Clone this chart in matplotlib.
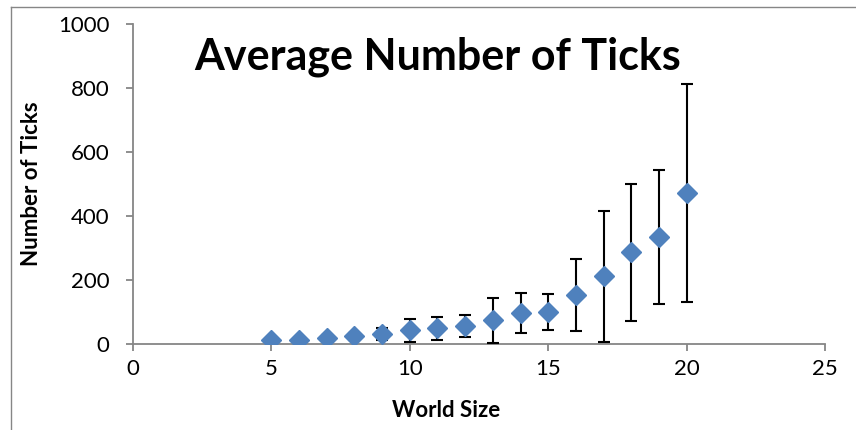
import matplotlib.pyplot as plt
from matplotlib.lines import Line2D

plt.rcParams['font.family'] = ['Lato', 'DejaVu Sans']

# World size vs. average ticks
world_size = [5, 6, 7, 8, 9, 10, 11, 12, 13, 14, 15, 16, 17, 18, 19, 20]
avg_ticks = [10, 12, 18, 22, 30, 41, 48, 54, 73, 95, 98, 151, 210, 285, 333, 471]
std_ticks = [5, 6, 8, 10, 18, 35, 36, 34, 70, 63, 57, 113, 204, 214, 209, 341]

fig = plt.figure(figsize=(8.56, 4.30), dpi=100)
ax = fig.add_axes([133 / 856, 86.5 / 430, 692 / 856, 319.5 / 430])

ax.errorbar(world_size, avg_ticks, yerr=std_ticks, fmt='D', color='#4F81BD',
            markersize=10, ecolor='black', elinewidth=1.5, capsize=4.3,
            capthick=1.5, zorder=3)

ax.set_xlim(0, 25)
ax.set_ylim(0, 1000)
ax.set_xticks([0, 5, 10, 15, 20, 25])
ax.set_yticks([0, 200, 400, 600, 800, 1000])

for side in ['top', 'right']:
    ax.spines[side].set_visible(False)
for side in ['left', 'bottom']:
    ax.spines[side].set_color('#868686')
    ax.spines[side].set_linewidth(1.3)
ax.tick_params(direction='out', length=5, width=1.3, color='#868686',
               labelsize=16)
ax.tick_params(axis='y', pad=12)
ax.tick_params(axis='x', pad=6)

ax.set_xlabel('World Size', fontsize=16, fontweight='bold', va='center')
ax.xaxis.set_label_coords(0.452, -0.211)
ax.set_ylabel('Number of Ticks', fontsize=16, fontweight='bold', va='center')
ax.yaxis.set_label_coords(-0.146, 0.5)

fig.text(438 / 856, 1 - 57 / 430, 'Average Number of Ticks', fontsize=31,
         fontweight='bold', ha='center', va='center')

# chart frame (left and top edges visible)
fig.add_artist(Line2D([11 / 856, 11 / 856], [0, 1 - 7 / 430],
                      transform=fig.transFigure, color='#868686', lw=1))
fig.add_artist(Line2D([11 / 856, 1], [1 - 7 / 430, 1 - 7 / 430],
                      transform=fig.transFigure, color='#868686', lw=1))

plt.savefig('out.png')
